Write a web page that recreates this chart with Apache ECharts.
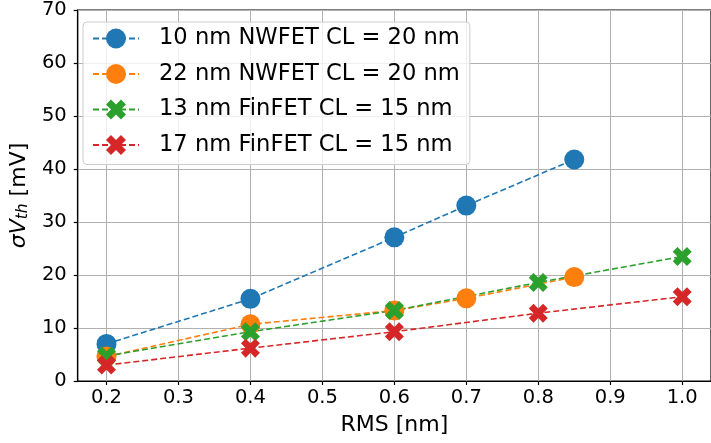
<!DOCTYPE html>
<html>
<head>
<meta charset="utf-8">
<script src="https://cdn.jsdelivr.net/npm/echarts@6/dist/echarts.min.js"></script>
<style>html,body{margin:0;padding:0;background:#fff}#c{width:711px;height:443px}</style>
</head>
<body>
<div id="c"></div>
<script>
// ---- data ----
const seriesNames = [
  '10 nm NWFET CL = 20 nm',
  '22 nm NWFET CL = 20 nm',
  '13 nm FinFET CL = 15 nm',
  '17 nm FinFET CL = 15 nm'
];
const rms10nw = [0.2, 0.4, 0.6, 0.7, 0.85];
const sig10nw = [7.0, 15.5, 27.1, 33.1, 41.8];
const rms22nw = [0.2, 0.4, 0.6, 0.7, 0.85];
const sig22nw = [4.6, 10.7, 13.3, 15.6, 19.6];
const rms13fin = [0.2, 0.4, 0.6, 0.8, 1.0];
const sig13fin = [4.7, 9.3, 13.3, 18.6, 23.5];
const rms17fin = [0.2, 0.4, 0.6, 0.8, 1.0];
const sig17fin = [3.0, 6.2, 9.3, 12.8, 15.9];
const xTicks = [0.2, 0.3, 0.4, 0.5, 0.6, 0.7, 0.8, 0.9, 1.0];

const colors = ['#1f77b4', '#ff7f0e', '#2ca02c', '#d62728'];
const xPath = 'path://M424 0 L283 141 L141 0 L0 141 L141 283 L0 424 L141 566 L283 424 L424 566 L566 424 L424 283 L566 141 Z';
const symbols = ['circle', 'circle', xPath, xPath];
const symSizes = [20, 20, 19, 19];
const xsAll = [rms10nw, rms22nw, rms13fin, rms17fin];
const ysAll = [sig10nw, sig22nw, sig13fin, sig17fin];

const FONT = 'DejaVu Sans';
const chart = echarts.init(document.getElementById('c'), null, {renderer: 'canvas'});

const series = seriesNames.map((name, i) => ({
  name: name,
  type: 'line',
  data: xsAll[i].map((x, k) => [x, ysAll[i][k]]),
  symbol: symbols[i],
  symbolSize: symSizes[i],
  showAllSymbol: true,
  lineStyle: {color: colors[i], width: 1.6, type: [6, 3]},
  itemStyle: {color: colors[i]},
  emphasis: {disabled: true},
  animation: false
}));

chart.setOption({
  animation: false,
  color: colors,
  grid: {left: 71, top: 10, width: 647, height: 371, show: true, borderColor: '#000', borderWidth: 1.2, backgroundColor: 'transparent'},
  legend: {
    orient: 'vertical',
    left: 83, top: 22,
    padding: [5, 10, 8, 9],
    itemWidth: 46, itemHeight: 25, itemGap: 12.5,
    backgroundColor: 'rgba(255,255,255,0.8)',
    borderColor: '#cccccc', borderWidth: 1, borderRadius: 4,
    textStyle: {fontFamily: FONT, fontSize: 22.6, color: '#000', padding: [0, 0, 0, 15]},
    data: seriesNames
  },
  xAxis: {
    type: 'value',
    min: 0.16, max: 1.04,
    minInterval: 0.1, maxInterval: 0.1,
    name: 'RMS [nm]',
    nameLocation: 'middle',
    nameGap: 33,
    nameTextStyle: {fontFamily: FONT, fontSize: 22, color: '#000'},
    axisLine: {show: true, onZero: false, lineStyle: {color: '#000', width: 1.2}},
    axisTick: {show: true, length: 4, lineStyle: {color: '#000', width: 1.2}, customValues: xTicks},
    axisLabel: {fontFamily: FONT, fontSize: 19.5, color: '#000', margin: 7, customValues: xTicks,
      formatter: v => v.toFixed(1)},
    splitLine: {show: true, lineStyle: {color: '#b0b0b0', width: 1}}
  },
  yAxis: {
    type: 'value',
    min: 0, max: 70, interval: 10,
    name: '{m|σV}{s|th}{n| [mV]}',
    nameLocation: 'middle',
    nameGap: 40,
    nameRotate: 90,
    nameTextStyle: {
      fontFamily: FONT, fontSize: 22, color: '#000',
      rich: {
        m: {fontFamily: FONT, fontSize: 22, fontStyle: 'italic', color: '#000'},
        s: {fontFamily: FONT, fontSize: 15.5, fontStyle: 'italic', color: '#000', padding: [8, 0, 0, 0]},
        n: {fontFamily: FONT, fontSize: 22, color: '#000'}
      }
    },
    axisLine: {show: true, lineStyle: {color: '#000', width: 1.2}},
    axisTick: {show: true, length: 4, lineStyle: {color: '#000', width: 1.2}},
    axisLabel: {fontFamily: FONT, fontSize: 19.5, color: '#000', margin: 11},
    splitLine: {show: true, lineStyle: {color: '#b0b0b0', width: 1}}
  },
  series: series
});
</script>
</body>
</html>
